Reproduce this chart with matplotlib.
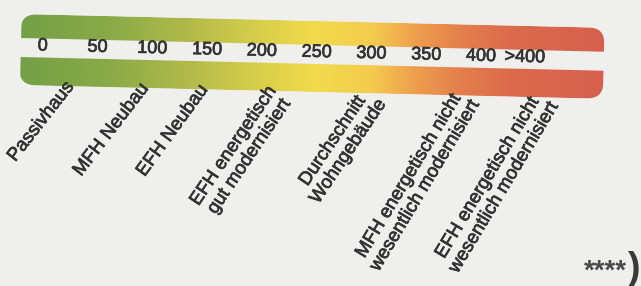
import numpy as np
import matplotlib
matplotlib.use('Agg')
import matplotlib.pyplot as plt
import matplotlib.patheffects as pe
from matplotlib.patches import FancyBboxPatch, Rectangle
from matplotlib.colors import LinearSegmentedColormap
from matplotlib.transforms import Affine2D

# ---- data ----
tick_values = [0, 50, 100, 150, 200, 250, 300, 350, 400, 440]
tick_labels = ['0', '50', '100', '150', '200', '250', '300', '350', '400', '>400']
categories = ['Passivhaus', 'MFH Neubau', 'EFH Neubau',
              'EFH energetisch\ngut modernisiert',
              'Durchschnitt\nWohngebäude',
              'MFH energetisch nicht\nwesentlich modernisiert',
              'EFH energetisch nicht\nwesentlich modernisiert']
category_values = [20, 88, 142, 204, 290, 374, 446]
footnote_stars = '****'
footnote_paren = ')'

# colour scale along the band (value, colour)
grad_values = [-20, 60, 130, 200, 250, 300, 340, 380, 430, 512]
grad_colors = ['#74a046', '#8aaa48', '#b0b94a', '#d9d04a', '#f2da4c',
               '#f4cc4e', '#ee9f4e', '#e4804c', '#dc6a4c', '#d6604e']

# ---- style / layout ----
W, H = 641, 286
bg = '#efefed'
txt = '#333333'
font = ['Liberation Sans', 'DejaVu Sans']
plt.rcParams['font.family'] = font

band_left, band_right = -20.5, 512
band_top, band_bottom = 14, 85
stripe_top, stripe_bottom = 38, 57
tilt = -1.35
label_rot = [52, 52.5, 54, 56, 56, 59, 59]
thick = [pe.withStroke(linewidth=0.5, foreground=txt)]

fig = plt.figure(figsize=(W / 100, H / 100), dpi=100)
fig.patch.set_facecolor(bg)
ax = fig.add_axes([0, 0, 1, 1])
ax.set_facecolor(bg)

ax.set_xlim(-43.5 / 1.096, (W - 43.5) / 1.096)
ax.set_ylim(H, 0)
ax.axis('off')

px, py = ax.transData.transform((band_left, band_top))
trans = ax.transData + Affine2D().rotate_deg_around(px, py, tilt)

# gradient band
span = band_right - band_left
g0, g1 = min(grad_values), max(grad_values)
pos = [(v - g0) / (g1 - g0) for v in grad_values]
cmap = LinearSegmentedColormap.from_list('scale', list(zip(pos, grad_colors)))
grad = np.linspace(0, 1, 512)[None, :]

patch = FancyBboxPatch((band_left, band_top), span, band_bottom - band_top,
                       boxstyle='round,pad=0,rounding_size=15',
                       facecolor='none', edgecolor='none', transform=trans)
ax.add_patch(patch)
im = ax.imshow(grad, cmap=cmap, aspect='auto',
               extent=(g0, g1, band_bottom, band_top),
               interpolation='bilinear')
im.set_transform(trans)
im.set_clip_path(patch)

stripe = Rectangle((band_left - 10, stripe_top), span + 20,
                   stripe_bottom - stripe_top, facecolor=bg, edgecolor='none',
                   transform=trans, zorder=3)
ax.add_patch(stripe)

ax.set_xlim(-43.5 / 1.096, (W - 43.5) / 1.096)
ax.set_ylim(H, 0)

# scale numbers
for v, lab in zip(tick_values, tick_labels):
    ax.text(v, stripe_top - 1, lab, transform=trans, ha='center', va='top',
            rotation=tilt, rotation_mode='anchor', fontsize=13,
            color=txt, zorder=5, path_effects=thick)

# category labels
for v, lab, r in zip(category_values, categories, label_rot):
    ax.text(v, band_bottom - 7, lab, transform=trans, ha='right', va='top',
            rotation=r, rotation_mode='anchor', multialignment='center',
            fontsize=13.5, color=txt, linespacing=1.15, zorder=5,
            path_effects=thick)

fig.text(627 / W, (H - 279) / H, footnote_stars, ha='right', va='baseline',
         fontsize=20, fontweight='bold', color='#4a4a4a')
fig.text(627 / W, (H - 279) / H, footnote_paren, ha='left', va='baseline',
         fontsize=27, fontweight='bold', color='#3a3a3a')

fig.savefig('out.png', dpi=100, facecolor=bg)
